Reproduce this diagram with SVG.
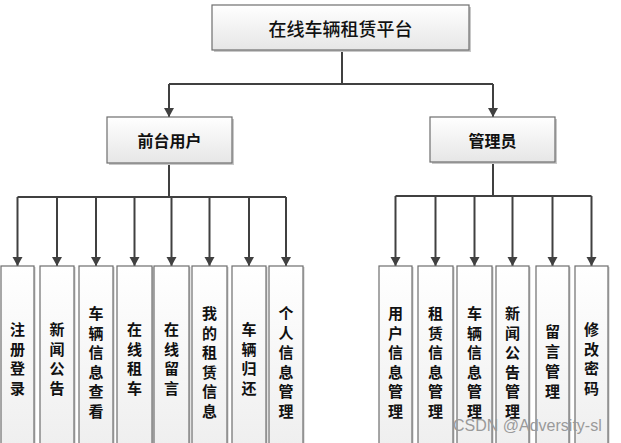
<svg xmlns="http://www.w3.org/2000/svg" width="621" height="443" viewBox="0 0 621 443">
<defs>
<linearGradient id="g" x1="0" y1="0" x2="0" y2="1">
<stop offset="0" stop-color="#ffffff"/>
<stop offset="1" stop-color="#e6e6e6"/>
</linearGradient>
<linearGradient id="gl" x1="0" y1="0" x2="0" y2="1">
<stop offset="0" stop-color="#ffffff"/>
<stop offset="1" stop-color="#eeeeee"/>
</linearGradient>
<marker id="arr" markerUnits="userSpaceOnUse" markerWidth="12" markerHeight="12" viewBox="0 0 12 12" refX="10" refY="6" orient="auto">
<path d="M1,1 L10,6 L1,11 Z" fill="#404040"/>
</marker>
</defs>
<style>
.box{fill:url(#g);stroke:#6e6e6e;stroke-width:1.2}
.leaf{fill:url(#gl);stroke:#6e6e6e;stroke-width:1.2}
.sh{fill:#c8c8c8}
.c{fill:none;stroke:#404040;stroke-width:2}
.t{font-family:"Noto Sans CJK SC","Noto Sans CJK TC",sans-serif;fill:#111;text-anchor:middle;dominant-baseline:central}
.top{font-size:18px;font-weight:500}
.mid{font-size:16px;font-weight:700}
.lt{font-size:15px;font-weight:700}
.wm{font-family:"Liberation Sans",Arial,sans-serif;font-size:16px;fill:#9a9a9a}
</style>
<rect width="621" height="443" fill="#ffffff"/>
<g id="connectors">
<path class="c" d="M342,50 V84 M169,84 H493"/>
<path class="c" d="M169,84 V117" marker-end="url(#arr)"/>
<path class="c" d="M493,84 V117" marker-end="url(#arr)"/>
<path class="c" d="M169,163 V197 M17.5,197 H286"/>
<path class="c" d="M17.5,197 V266" marker-end="url(#arr)"/>
<path class="c" d="M57,197 V266" marker-end="url(#arr)"/>
<path class="c" d="M96,197 V266" marker-end="url(#arr)"/>
<path class="c" d="M134.5,197 V266" marker-end="url(#arr)"/>
<path class="c" d="M171.5,197 V266" marker-end="url(#arr)"/>
<path class="c" d="M209.5,197 V266" marker-end="url(#arr)"/>
<path class="c" d="M249,197 V266" marker-end="url(#arr)"/>
<path class="c" d="M286,197 V266" marker-end="url(#arr)"/>
<path class="c" d="M493,162 V196 M395.5,196 H591.5"/>
<path class="c" d="M395.5,196 V266" marker-end="url(#arr)"/>
<path class="c" d="M435.5,196 V266" marker-end="url(#arr)"/>
<path class="c" d="M474.5,196 V266" marker-end="url(#arr)"/>
<path class="c" d="M512.5,196 V266" marker-end="url(#arr)"/>
<path class="c" d="M552.5,196 V266" marker-end="url(#arr)"/>
<path class="c" d="M591.5,196 V266" marker-end="url(#arr)"/>
</g>
<g id="root">
<rect class="sh" x="214" y="7" width="257" height="45"/>
<rect class="box" x="212" y="5" width="257" height="45"/>
<text class="t top" x="340.5" y="27.5">在线车辆租赁平台</text>
</g>
<g id="front">
<rect class="sh" x="109" y="119" width="125" height="46"/>
<rect class="box" x="107" y="117" width="125" height="46"/>
<text class="t mid" x="169.5" y="140">前台用户</text>
</g>
<g id="admin">
<rect class="sh" x="432" y="119" width="125" height="45"/>
<rect class="box" x="430" y="117" width="125" height="45"/>
<text class="t mid" x="492.5" y="139.5">管理员</text>
</g>
<g id="l1"><rect class="sh" x="2.5" y="267" width="33" height="190"/><rect class="leaf" x="1" y="266" width="33" height="190"/>
<text class="t lt" x="17.5"><tspan x="17.5" y="328">注</tspan><tspan x="17.5" y="347.5">册</tspan><tspan x="17.5" y="367">登</tspan><tspan x="17.5" y="386.5">录</tspan></text></g>
<g id="l2"><rect class="sh" x="41.5" y="267" width="34" height="190"/><rect class="leaf" x="40" y="266" width="34" height="190"/>
<text class="t lt"><tspan x="57" y="328">新</tspan><tspan x="57" y="347.5">闻</tspan><tspan x="57" y="367">公</tspan><tspan x="57" y="386.5">告</tspan></text></g>
<g id="l3"><rect class="sh" x="80.5" y="267" width="34" height="190"/><rect class="leaf" x="79" y="266" width="34" height="190"/>
<text class="t lt"><tspan x="96" y="312">车</tspan><tspan x="96" y="331.5">辆</tspan><tspan x="96" y="351">信</tspan><tspan x="96" y="370.5">息</tspan><tspan x="96" y="390">查</tspan><tspan x="96" y="409.5">看</tspan></text></g>
<g id="l4"><rect class="sh" x="118.5" y="267" width="35" height="190"/><rect class="leaf" x="117" y="266" width="35" height="190"/>
<text class="t lt"><tspan x="134.5" y="328">在</tspan><tspan x="134.5" y="347.5">线</tspan><tspan x="134.5" y="367">租</tspan><tspan x="134.5" y="386.5">车</tspan></text></g>
<g id="l5"><rect class="sh" x="155.5" y="267" width="35" height="190"/><rect class="leaf" x="154" y="266" width="35" height="190"/>
<text class="t lt"><tspan x="171.5" y="328">在</tspan><tspan x="171.5" y="347.5">线</tspan><tspan x="171.5" y="367">留</tspan><tspan x="171.5" y="386.5">言</tspan></text></g>
<g id="l6"><rect class="sh" x="193.5" y="267" width="35" height="190"/><rect class="leaf" x="192" y="266" width="35" height="190"/>
<text class="t lt"><tspan x="209.5" y="312">我</tspan><tspan x="209.5" y="331.5">的</tspan><tspan x="209.5" y="351">租</tspan><tspan x="209.5" y="370.5">赁</tspan><tspan x="209.5" y="390">信</tspan><tspan x="209.5" y="409.5">息</tspan></text></g>
<g id="l7"><rect class="sh" x="233.5" y="267" width="34" height="190"/><rect class="leaf" x="232" y="266" width="34" height="190"/>
<text class="t lt"><tspan x="249" y="328">车</tspan><tspan x="249" y="347.5">辆</tspan><tspan x="249" y="367">归</tspan><tspan x="249" y="386.5">还</tspan></text></g>
<g id="l8"><rect class="sh" x="270.5" y="267" width="34" height="190"/><rect class="leaf" x="269" y="266" width="34" height="190"/>
<text class="t lt"><tspan x="286" y="312">个</tspan><tspan x="286" y="331.5">人</tspan><tspan x="286" y="351">信</tspan><tspan x="286" y="370.5">息</tspan><tspan x="286" y="390">管</tspan><tspan x="286" y="409.5">理</tspan></text></g>
<g id="r1"><rect class="sh" x="380.5" y="267" width="33" height="190"/><rect class="leaf" x="379" y="266" width="33" height="190"/>
<text class="t lt"><tspan x="395.5" y="312">用</tspan><tspan x="395.5" y="331.5">户</tspan><tspan x="395.5" y="351">信</tspan><tspan x="395.5" y="370.5">息</tspan><tspan x="395.5" y="390">管</tspan><tspan x="395.5" y="409.5">理</tspan></text></g>
<g id="r2"><rect class="sh" x="419.5" y="267" width="35" height="190"/><rect class="leaf" x="418" y="266" width="35" height="190"/>
<text class="t lt"><tspan x="435.5" y="312">租</tspan><tspan x="435.5" y="331.5">赁</tspan><tspan x="435.5" y="351">信</tspan><tspan x="435.5" y="370.5">息</tspan><tspan x="435.5" y="390">管</tspan><tspan x="435.5" y="409.5">理</tspan></text></g>
<g id="r3"><rect class="sh" x="458.5" y="267" width="35" height="190"/><rect class="leaf" x="457" y="266" width="35" height="190"/>
<text class="t lt"><tspan x="474.5" y="312">车</tspan><tspan x="474.5" y="331.5">辆</tspan><tspan x="474.5" y="351">信</tspan><tspan x="474.5" y="370.5">息</tspan><tspan x="474.5" y="390">管</tspan><tspan x="474.5" y="409.5">理</tspan></text></g>
<g id="r4"><rect class="sh" x="497.5" y="267" width="33" height="190"/><rect class="leaf" x="496" y="266" width="33" height="190"/>
<text class="t lt"><tspan x="512.5" y="312">新</tspan><tspan x="512.5" y="331.5">闻</tspan><tspan x="512.5" y="351">公</tspan><tspan x="512.5" y="370.5">告</tspan><tspan x="512.5" y="390">管</tspan><tspan x="512.5" y="409.5">理</tspan></text></g>
<g id="r5"><rect class="sh" x="537.5" y="267" width="33" height="190"/><rect class="leaf" x="536" y="266" width="33" height="190"/>
<text class="t lt"><tspan x="552.5" y="330">留</tspan><tspan x="552.5" y="350">言</tspan><tspan x="552.5" y="370">管</tspan><tspan x="552.5" y="390">理</tspan></text></g>
<g id="r6"><rect class="sh" x="576.5" y="267" width="33" height="190"/><rect class="leaf" x="575" y="266" width="33" height="190"/>
<text class="t lt"><tspan x="591.5" y="328">修</tspan><tspan x="591.5" y="347.5">改</tspan><tspan x="591.5" y="367">密</tspan><tspan x="591.5" y="386.5">码</tspan></text></g>
<text class="wm" x="453" y="431">CSDN @Adversity-sl</text>
</svg>
